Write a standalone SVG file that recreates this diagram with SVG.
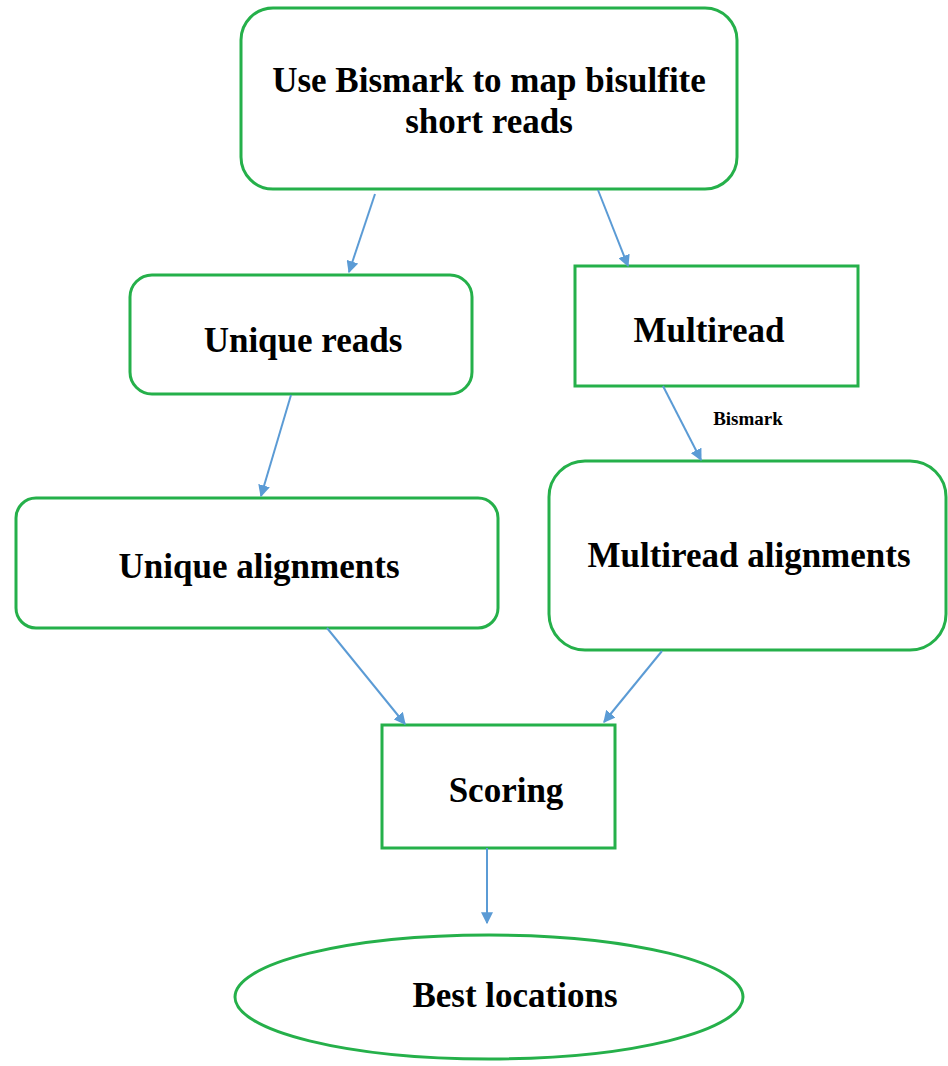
<svg xmlns="http://www.w3.org/2000/svg" width="948" height="1066" viewBox="0 0 948 1066">
<style>
.n{fill:#fff;stroke:#25b04a;stroke-width:3}
.t{font-family:"Liberation Serif","Times New Roman",serif;font-weight:bold;font-size:35px;fill:#000;text-anchor:middle}
.c{stroke:#5b9bd5;stroke-width:2;fill:none;marker-end:url(#ah)}
</style>
<defs>
<marker id="ah" viewBox="0 0 10 10" refX="9" refY="5" markerWidth="6" markerHeight="6" orient="auto" markerUnits="strokeWidth">
<path d="M0,0 L10,5 L0,10 z" fill="#5b9bd5"/>
</marker>
</defs>
<rect width="948" height="1066" fill="#fff"/>
<g id="n1"><rect class="n" x="241" y="8" width="496" height="181" rx="32"/>
<text class="t" x="489" y="92">Use Bismark to map bisulfite</text>
<text class="t" x="489" y="133">short reads</text></g>
<g id="n2"><rect class="n" x="130" y="275" width="342" height="119" rx="22"/>
<text class="t" x="303" y="352">Unique reads</text></g>
<g id="n3"><rect class="n" x="575" y="266" width="283" height="120"/>
<text class="t" x="709" y="342">Multiread</text></g>
<g id="n4"><rect class="n" x="16" y="498" width="482" height="130" rx="20"/>
<text class="t" x="259" y="578">Unique alignments</text></g>
<g id="n5"><rect class="n" x="549" y="461" width="397" height="189" rx="36"/>
<text class="t" x="749" y="567">Multiread alignments</text></g>
<g id="n6"><rect class="n" x="382" y="725" width="233" height="123"/>
<text class="t" x="506" y="802">Scoring</text></g>
<g id="n7"><ellipse class="n" cx="489" cy="997" rx="254" ry="62"/>
<text class="t" x="515" y="1007">Best locations</text></g>
<g id="connectors">
<path class="c" d="M375,194 L349,272"/>
<path class="c" d="M598,190 L628,266"/>
<path class="c" d="M291,395 L261,496"/>
<path class="c" d="M663,386 L701,460"/>
<path class="c" d="M327,628 L405,724"/>
<path class="c" d="M662,651 L604,722"/>
<path class="c" d="M487,848 L487,923"/>
<text x="748" y="425" style="font-family:'Liberation Serif','Times New Roman',serif;font-weight:bold;font-size:19px;text-anchor:middle">Bismark</text>
</g>
</svg>
